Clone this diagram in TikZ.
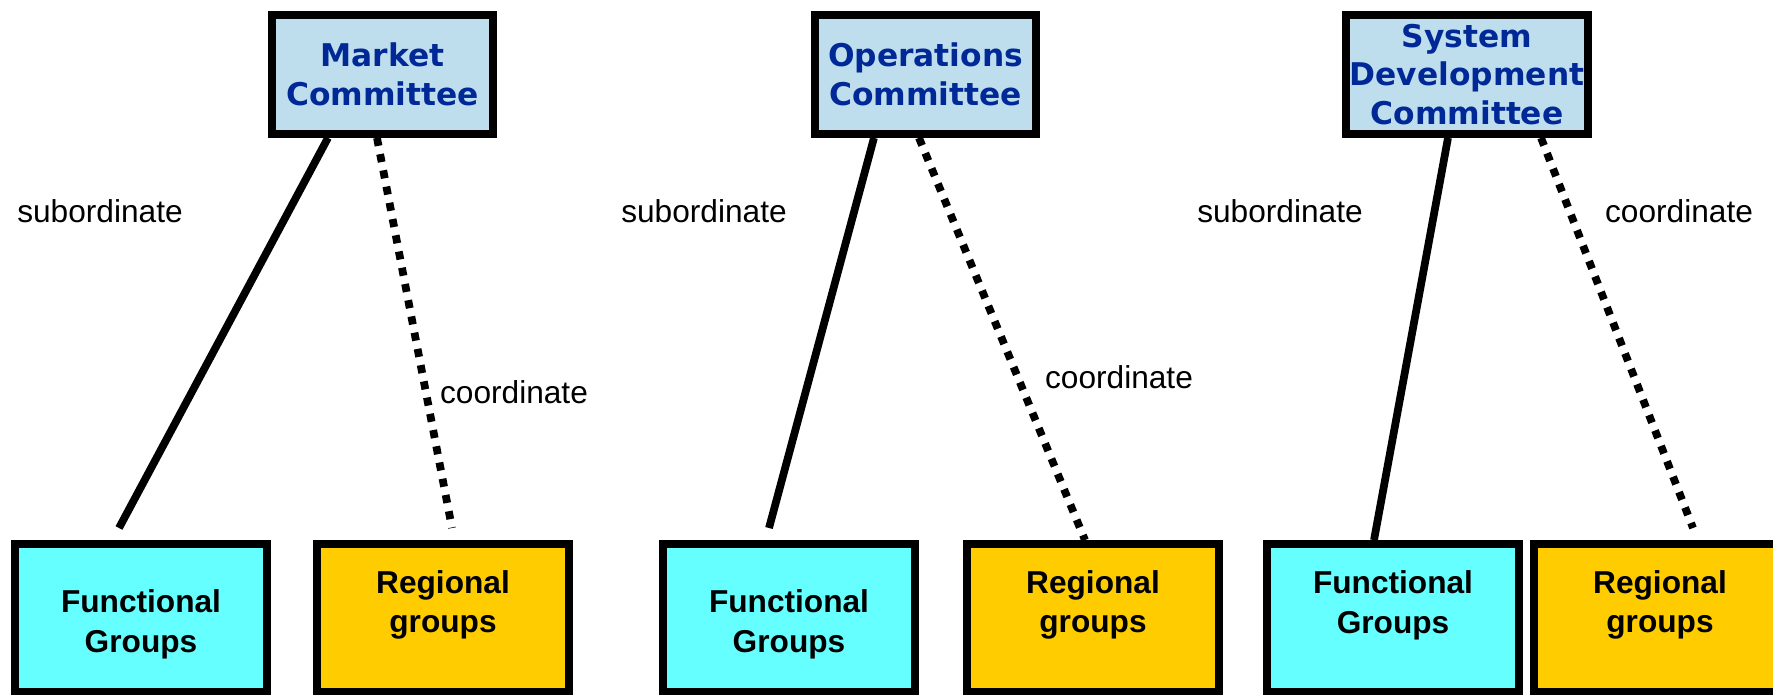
\documentclass[tikz,border=0pt]{standalone}
\usepackage{fontspec}
\setmainfont{Liberation Sans}
\newfontfamily\cmtfont{DejaVu Sans}
\definecolor{cmtfill}{RGB}{190,221,237}
\definecolor{cmtblue}{RGB}{0,40,150}
\definecolor{fgfill}{RGB}{102,255,255}
\definecolor{rgfill}{RGB}{255,204,0}
\tikzset{
  cmt/.style={draw, line width=2.2pt, fill=cmtfill, text=cmtblue, align=center,
    font=\cmtfont\bfseries\fontsize{8.9}{11}\selectfont, minimum height=1.19cm, inner sep=0pt},
  grptxt/.style={font=\bfseries\fontsize{9}{11.3}\selectfont, align=center},
  grp/.style={draw, line width=2.2pt, minimum width=2.52cm, minimum height=1.48cm, inner sep=0pt},
  fgbox/.style={grp, fill=fgfill},
  rgbox/.style={grp, fill=rgfill},
  sub/.style={line width=2.2pt},
  coord/.style={line width=2.2pt, dash pattern=on 2.3pt off 2.4pt},
  lbl/.style={font=\fontsize{9}{11}\selectfont}
}
\begin{document}
\begin{tikzpicture}[x=0.01cm,y=-0.01cm]
    \useasboundingbox (0,0) rectangle (1773,695);
    \node[cmt, minimum width=2.21cm] (mc) at (382.5,74.5) {Market\\Committee};
    \node[cmt, minimum width=2.21cm] (oc) at (925.5,74.5) {Operations\\Committee};
    \node[cmt, minimum width=2.42cm] (sc) at (1467,74.5) {System\\Development\\Committee};

    \node[fgbox, label={[grptxt, yshift=-0.06cm]center:Functional\\Groups}] (fg1) at (141,618) {};
    \node[rgbox, label={[grptxt, yshift=0.13cm]center:Regional\\groups}] (rg1) at (443,618) {};
    \node[fgbox, label={[grptxt, yshift=-0.06cm]center:Functional\\Groups}] (fg2) at (789,618) {};
    \node[rgbox, label={[grptxt, yshift=0.13cm]center:Regional\\groups}] (rg2) at (1093,618) {};
    \node[fgbox, label={[grptxt, yshift=0.13cm]center:Functional\\Groups}] (fg3) at (1393,618) {};
    \node[rgbox, label={[grptxt, yshift=0.13cm]center:Regional\\groups}] (rg3) at (1660,618) {};

    \coordinate (mcs) at (119,528);
    \coordinate (mcc) at (452,528);
    \coordinate (ocs) at (769,528);
    \coordinate (scc) at (1693,528);

    \draw[sub] ([xshift=-0.545cm]mc.south) -- (mcs);
    \draw[coord] ([xshift=-0.055cm]mc.south) -- (mcc);
    \draw[sub] ([xshift=-0.515cm]oc.south) -- (ocs);
    \draw[coord] ([xshift=-0.065cm]oc.south) -- ([xshift=-0.08cm]rg2.north);
    \draw[sub] ([xshift=-0.19cm]sc.south) -- ([xshift=-0.19cm]fg3.north);
    \draw[coord] ([xshift=0.74cm]sc.south) -- (scc);

    \node[lbl] (ms) at (100,211) {subordinate};
    \node[lbl] (mk) at (514,392) {coordinate};
    \node[lbl] (os) at (704,211) {subordinate};
    \node[lbl] (ok) at (1119,377) {coordinate};
    \node[lbl] (ss) at (1280,211) {subordinate};
    \node[lbl] (sk) at (1679,211) {coordinate};
\end{tikzpicture}
\end{document}
